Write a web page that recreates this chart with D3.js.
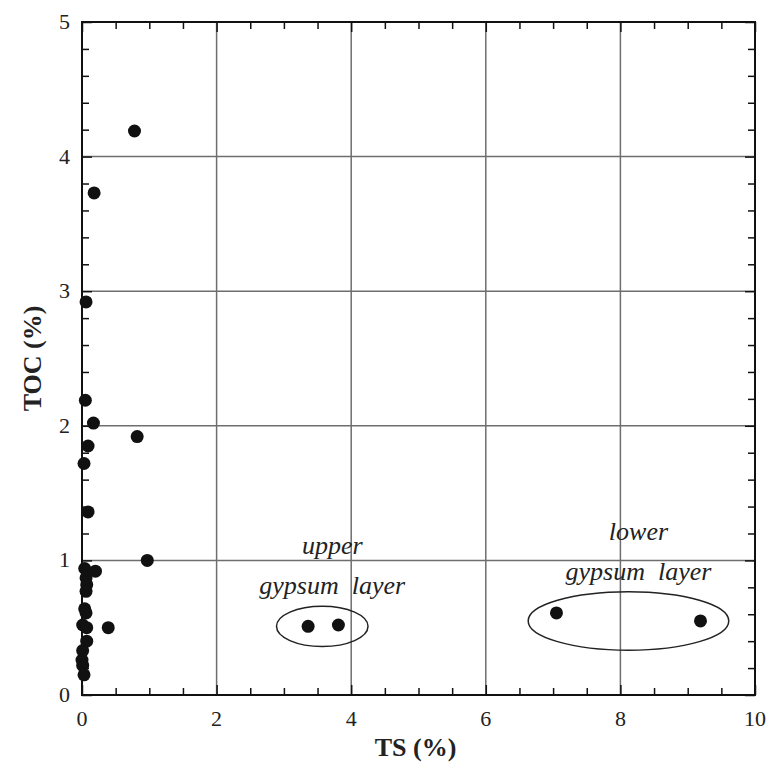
<!DOCTYPE html>
<html>
<head>
<meta charset="utf-8">
<script src="https://cdn.jsdelivr.net/npm/d3@7"></script>
<style>
  body { margin: 0; background: #fff; }
  svg text { font-family: "Liberation Serif", "DejaVu Serif", serif !important; }
</style>
</head>
<body>
<script>
// TS (%) and TOC (%) of the samples
const ts  = [0.78, 0.18, 0.06, 0.05, 0.17, 0.82, 0.09, 0.03, 0.09, 0.97,
             0.04, 0.20, 0.06, 0.07, 0.06, 0.04, 0.06, 0.01, 0.07, 0.39,
             0.07, 0.01, 0.00, 0.01, 0.03,
             3.36, 3.81, 7.05, 9.19];
const toc = [4.19, 3.73, 2.92, 2.19, 2.02, 1.92, 1.85, 1.72, 1.36, 1.00,
             0.94, 0.92, 0.87, 0.82, 0.77, 0.64, 0.61, 0.52, 0.50, 0.50,
             0.40, 0.33, 0.26, 0.22, 0.15,
             0.51, 0.52, 0.61, 0.55];
const xMajor = [0, 2, 4, 6, 8, 10];
const yMajor = [0, 1, 2, 3, 4, 5];
// ellipses round the gypsum samples: centre and radii in data units
const groups = [
  { name: ["upper", "gypsum  layer"], cx: 3.57, cy: 0.51, rx: 0.68, ry: 0.15 },
  { name: ["lower", "gypsum  layer"], cx: 8.12, cy: 0.55, rx: 1.49, ry: 0.217 }
];

const W = 774, H = 763;
const m = { left: 82, right: 19, top: 22, bottom: 68 };
const svg = d3.select("body").append("svg").attr("width", W).attr("height", H)
  .attr("font-family", "Liberation Serif");

const x = d3.scaleLinear().domain([0, 10]).range([m.left, W - m.right]);
const y = d3.scaleLinear().domain([0, 5]).range([H - m.bottom, m.top]);

// grid
svg.append("g").selectAll("line").data(xMajor.slice(1, -1)).join("line")
  .attr("x1", d => x(d)).attr("x2", d => x(d))
  .attr("y1", y(0)).attr("y2", y(5))
  .attr("stroke", "#6e6e6e").attr("stroke-width", 1.5);
svg.append("g").selectAll("line").data(yMajor.slice(1, -1)).join("line")
  .attr("y1", d => y(d)).attr("y2", d => y(d))
  .attr("x1", x(0)).attr("x2", x(10))
  .attr("stroke", "#6e6e6e").attr("stroke-width", 1.5);

// axes with inward ticks on all four sides
const xMinor = d3.range(0, 10.01, 0.5).filter(v => v % 2 !== 0);
const yMinor = d3.range(0, 5.001, 0.2).filter(v => Math.abs(v - Math.round(v)) > 0.01);

function side(axisFn, scale, vals, len, tr) {
  svg.append("g").attr("transform", tr)
    .call(axisFn(scale).tickValues(vals).tickSize(len).tickFormat(""))
    .call(g => g.select(".domain").remove())
    .call(g => g.selectAll("line").attr("stroke", "#111").attr("stroke-width", 1.5));
}
side(d3.axisTop, x, xMinor, 7, `translate(0,${y(0)})`);
side(d3.axisTop, x, xMajor, 10, `translate(0,${y(0)})`);
side(d3.axisBottom, x, xMinor, 7, `translate(0,${y(5)})`);
side(d3.axisBottom, x, xMajor, 10, `translate(0,${y(5)})`);
side(d3.axisRight, y, yMinor, 7, `translate(${x(0)},0)`);
side(d3.axisRight, y, yMajor, 10, `translate(${x(0)},0)`);
side(d3.axisLeft, y, yMinor, 7, `translate(${x(10)},0)`);
side(d3.axisLeft, y, yMajor, 10, `translate(${x(10)},0)`);

svg.append("rect")
  .attr("x", x(0)).attr("y", y(5))
  .attr("width", x(10) - x(0)).attr("height", y(0) - y(5))
  .attr("fill", "none").attr("stroke", "#111").attr("stroke-width", 2);

// tick labels
svg.append("g").selectAll("text").data(xMajor).join("text")
  .attr("x", d => x(d)).attr("y", y(0) + 31)
  .attr("text-anchor", "middle").attr("font-size", 22).attr("fill", "#222")
  .text(d => d);
svg.append("g").selectAll("text").data(yMajor).join("text")
  .attr("x", x(0) - 12).attr("y", d => y(d) + 7)
  .attr("text-anchor", "end").attr("font-size", 22).attr("fill", "#222")
  .text(d => d);

// axis titles
svg.append("text")
  .attr("x", (x(0) + x(10)) / 2 - 3).attr("y", 756)
  .attr("text-anchor", "middle").attr("font-size", 26).attr("font-weight", "bold")
  .attr("fill", "#222").text("TS (%)");
svg.append("text")
  .attr("transform", `translate(41,${(y(0) + y(5)) / 2}) rotate(-90)`)
  .attr("text-anchor", "middle").attr("font-size", 26).attr("font-weight", "bold")
  .attr("fill", "#222").text("TOC (%)");

// ellipses
svg.append("g").selectAll("ellipse").data(groups).join("ellipse")
  .attr("cx", d => x(d.cx)).attr("cy", d => y(d.cy))
  .attr("rx", d => x(d.rx) - x(0)).attr("ry", d => y(0) - y(d.ry))
  .attr("fill", "none").attr("stroke", "#222").attr("stroke-width", 1.5);

// group labels
const lab = svg.append("g").attr("font-size", 26).attr("font-style", "italic")
  .attr("fill", "#222").attr("text-anchor", "middle");
groups.forEach(g => {
  const cx = x(g.cx), top = y(g.cy) - (y(0) - y(g.ry));
  lab.append("text").attr("x", cx + 10).attr("y", top - 52).text(g.name[0]);
  lab.append("text").attr("x", cx + 10).attr("y", top - 12)
    .style("white-space", "pre").text(g.name[1]);
});

// points
svg.append("g").selectAll("circle").data(ts).join("circle")
  .attr("cx", d => x(d)).attr("cy", (d, i) => y(toc[i]))
  .attr("r", 6.5).attr("fill", "#111");
</script>
</body>
</html>
